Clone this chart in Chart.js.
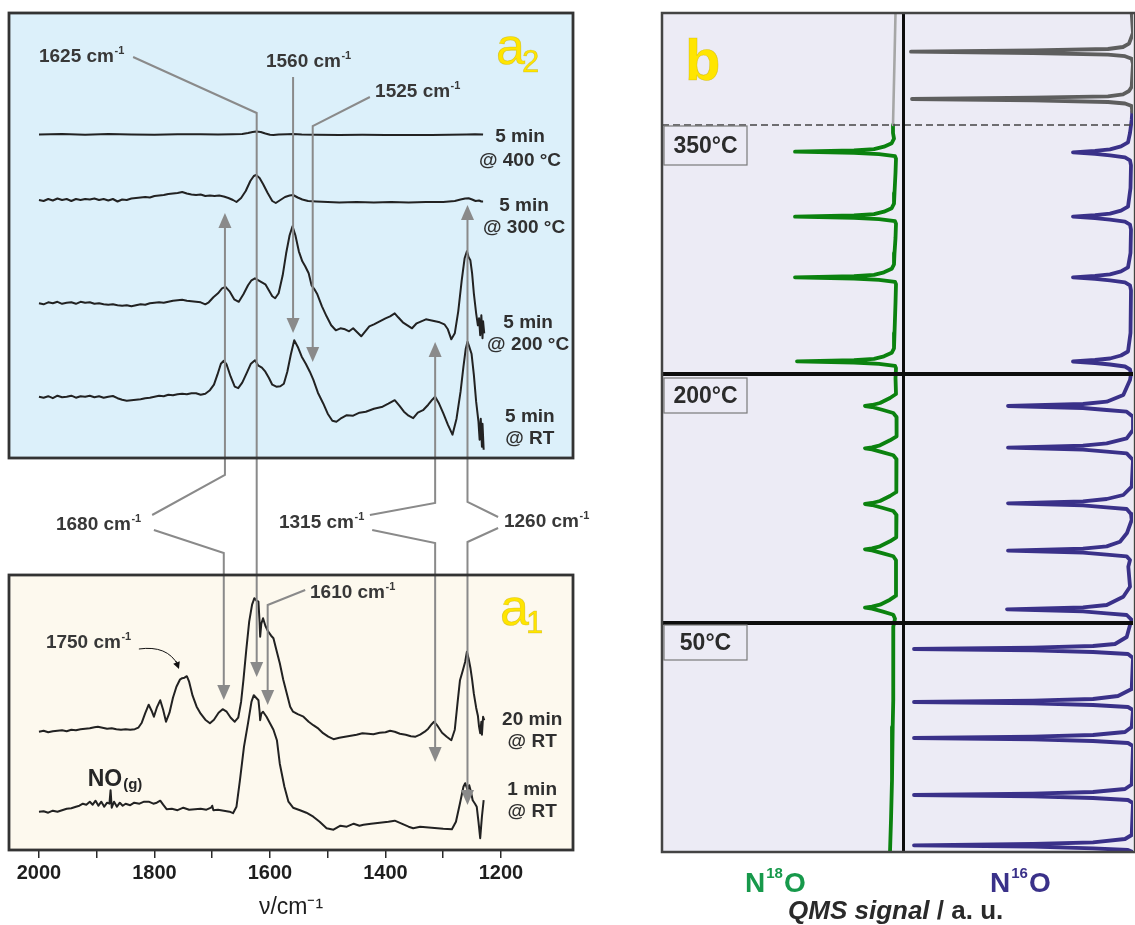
<!DOCTYPE html>
<html>
<head>
<meta charset="utf-8">
<script src="https://cdn.jsdelivr.net/npm/chart.js@4.4.1/dist/chart.umd.min.js"></script>
<style>
  body { margin: 0; background: #fff; }
  #wrap { position: relative; width: 1135px; height: 925px; }
  #ir { position: absolute; left: 0; top: 0; }
  #qms { position: absolute; left: 655px; top: 0; }
</style>
</head>
<body>
<div id="wrap">
  <canvas id="ir" width="600" height="925"></canvas>
  <canvas id="qms" width="480" height="925"></canvas>
</div>
<script>
const FAM = "'Liberation Sans', Arial, Helvetica, sans-serif";
Chart.defaults.font.family = FAM;

// ---------- panel a : IR spectra  [wavenumber, absorbance above own baseline] ----------
const tickVals = [2000, 1900, 1800, 1700, 1600, 1500, 1400, 1300, 1200];
const majorTicks = [2000, 1800, 1600, 1400, 1200];

const spec400 = [[2000,0],[1960,0.5],[1920,-0.3],[1880,0.4],[1840,0],[1800,-0.3],[1760,0.3],[1720,0.2],[1690,0],[1665,0.3],[1648,0.5],[1638,1.5],[1630,2.5],[1624,3],[1616,2.5],[1608,1],[1600,-0.3],[1594,-0.5],[1585,0],[1570,0.3],[1560,0.6],[1545,0],[1520,-0.3],[1480,-0.4],[1440,-0.3],[1400,-0.4],[1360,-0.5],[1320,-0.4],[1290,-0.3],[1260,0],[1245,0.3],[1231,0]];

const spec300 = [[2000,0],[1992,-1],[1984,1],[1976,-0.5],[1968,1.5],[1960,0],[1952,1],[1944,-1],[1936,1],[1928,0],[1920,1],[1912,0.5],[1904,1.5],[1896,0],[1888,1],[1880,-0.5],[1872,1],[1864,-1.5],[1856,0.5],[1848,0],[1840,1.5],[1832,2],[1824,2.5],[1816,3],[1808,2.5],[1800,4],[1792,4.5],[1784,5],[1776,6],[1768,6.5],[1760,7],[1752,8],[1744,6.5],[1736,5.5],[1728,5],[1720,5.5],[1712,4],[1704,4.5],[1696,4],[1688,4.5],[1680,3.5],[1672,2],[1664,0],[1658,-2],[1650,2],[1642,9],[1634,19],[1628,24],[1624,25],[1618,22],[1612,16],[1604,7],[1596,-1],[1590,-3],[1582,0],[1574,3],[1566,4.5],[1560,5],[1552,2.5],[1544,0.5],[1534,-1],[1520,-1.5],[1500,-2],[1480,-2.5],[1450,-2],[1420,-2.5],[1390,-2],[1360,-2.5],[1330,-2],[1300,-2],[1280,-1],[1270,0.5],[1262,1.5],[1256,1.8],[1250,0.5],[1244,-1],[1238,-0.5],[1234,-1.5],[1231,-1.5]];

const spec200 = [[2000,0],[1992,-1],[1984,1],[1976,0],[1968,1.5],[1960,-0.5],[1952,0.5],[1944,1],[1936,-0.5],[1928,1.5],[1920,0.5],[1912,1],[1904,-0.5],[1896,0],[1888,-1],[1880,-1.5],[1872,-1],[1864,-2],[1856,-2.5],[1848,-2],[1840,-3],[1832,-2],[1824,-1],[1816,-1.5],[1808,0],[1800,0.5],[1792,1],[1784,0.5],[1776,1.5],[1768,2.5],[1760,3],[1752,3.5],[1744,2.5],[1736,2],[1728,1.5],[1720,1],[1712,-1],[1706,1],[1698,6],[1690,10],[1683,15],[1677,16.5],[1670,12],[1662,4],[1654,1.5],[1646,9],[1638,18],[1632,23],[1626,25],[1620,23],[1614,21],[1608,19],[1602,13],[1596,7],[1591,5],[1585,10],[1578,28],[1572,50],[1566,68],[1561,77],[1556,68],[1550,52],[1544,42],[1539,37],[1533,30],[1528,18],[1523,14],[1518,9],[1510,-3],[1502,-13],[1494,-22],[1486,-27],[1478,-25],[1470,-26],[1463,-28],[1456,-25],[1449,-29],[1442,-33],[1435,-28],[1428,-23],[1420,-21],[1410,-18],[1400,-15],[1392,-13],[1384,-10],[1378,-14],[1370,-19],[1362,-22],[1354,-25],[1346,-20],[1338,-18],[1330,-16],[1322,-17],[1314,-18],[1306,-19],[1298,-21],[1292,-26],[1286,-36],[1280,-30],[1274,-8],[1268,23],[1263,45],[1259,52],[1256,46],[1253,43],[1250,30],[1247,10],[1243,-10],[1240,-22],[1238,-15],[1236,-32],[1234,-12],[1232,-35],[1231,-18],[1229,-30]];

const specRT5 = [[2000,0],[1992,-1],[1984,0.5],[1976,-1.5],[1968,1],[1960,-0.5],[1952,0],[1944,1],[1936,-1],[1928,0.5],[1920,0],[1912,1],[1904,-0.5],[1896,0.5],[1888,-1],[1880,0],[1872,0.7],[1864,-1.5],[1856,-3],[1848,-4],[1840,-3.5],[1832,-3],[1824,-2.5],[1816,-1.5],[1808,-1],[1800,0],[1792,1],[1784,0.5],[1776,2],[1768,1.5],[1760,2.5],[1752,3],[1744,2.5],[1736,3.5],[1728,3.5],[1720,2],[1712,3],[1704,6.5],[1697,12],[1691,22],[1685,33],[1680,36],[1675,32],[1668,20],[1661,10],[1655,8.5],[1648,14],[1640,24],[1633,33],[1626,36.5],[1620,31],[1614,29],[1608,25],[1602,19],[1596,12],[1589,10],[1582,10.5],[1576,13],[1570,25],[1564,42],[1558,56.5],[1552,50],[1545,40],[1538,33],[1531,25],[1525,17],[1517,4],[1508,-6.5],[1500,-17],[1492,-24],[1485,-25],[1478,-22],[1467,-18.5],[1456,-19],[1445,-16],[1434,-15],[1420,-12],[1405,-10],[1395,-7],[1384,-3.5],[1376,-9],[1368,-15],[1360,-19],[1352,-21.5],[1344,-16],[1335,-13.5],[1326,-8],[1319,-3],[1314,0],[1308,-6],[1300,-16.5],[1292,-28],[1284,-38],[1277,-22],[1270,5],[1265,30],[1261,48],[1258,55],[1255,50],[1251,43],[1247,22],[1243,-5],[1239,-25],[1237,-43],[1235,-22],[1233,-50],[1232,-27],[1230,-53]];

const spec20min = [[2000,0],[1992,1],[1984,-0.5],[1976,0.5],[1968,1],[1960,1.5],[1952,0.5],[1944,2],[1936,1.5],[1928,2.5],[1920,3],[1912,3.5],[1904,4.5],[1898,5],[1890,4],[1882,3],[1874,3.5],[1866,2.5],[1858,2],[1850,2.5],[1842,2],[1834,2.5],[1828,4],[1822,9],[1816,18.5],[1810,27],[1805,21],[1801,15],[1796,24],[1790,31.5],[1785,22],[1780,10],[1774,19],[1768,34],[1762,45],[1756,52],[1752,53.5],[1748,54],[1744,55.5],[1740,50],[1734,36],[1727,25],[1720,18],[1712,12],[1704,8.5],[1697,12],[1689,19],[1682,22.5],[1675,20],[1668,14],[1661,10],[1655,14],[1650,30],[1646,51.5],[1641,82],[1636,110],[1631,127],[1627,133.5],[1623,131],[1620,130],[1618,110],[1617,95],[1615,108],[1612,113.5],[1608,106],[1603,100],[1598,96],[1594,93.5],[1589,82],[1583,68.5],[1577,52],[1571,38.5],[1565,25],[1560,20],[1552,17.5],[1542,15],[1533,10],[1525,6.5],[1516,3],[1508,-1.5],[1499,-5],[1490,-7.5],[1480,-6],[1470,-5],[1460,-4],[1450,-3],[1440,-1.5],[1430,-2],[1421,-2.5],[1410,-1],[1400,-0.5],[1392,1],[1384,0],[1375,-2],[1365,-3],[1356,-4.5],[1348,-5],[1340,-3],[1332,0],[1326,3],[1320,7.5],[1316,10],[1310,6],[1302,-1],[1294,-5],[1286,-8.5],[1280,2],[1275,30],[1271,51.5],[1266,61.5],[1262,70],[1259,80],[1256,73],[1253,64],[1250,52],[1247,38],[1243,24],[1240,16],[1238,5],[1236,-1.5],[1234,10],[1233,-3],[1231,15],[1229,11.5]];

const spec1min = [[2000,0],[1992,0.5],[1984,-1],[1976,1],[1968,0],[1960,1.5],[1952,3],[1944,3.5],[1936,5],[1930,6],[1924,8],[1918,7],[1912,10],[1907,7],[1902,11],[1897,6],[1892,10],[1887,5],[1882,9],[1878,8],[1876,21.5],[1874,4],[1870,10],[1865,5],[1860,9],[1855,6],[1850,8],[1842,6.5],[1835,9],[1826,8],[1818,10],[1810,10],[1802,8],[1796,9],[1790,11],[1785,7],[1779,2.5],[1770,3],[1760,1.5],[1750,4],[1740,2],[1730,2.5],[1720,3],[1710,2],[1702,4],[1700,6],[1698,1.5],[1690,2],[1680,1],[1670,0],[1664,-1.5],[1658,5],[1652,31.5],[1645,65],[1638,88.5],[1632,110],[1628,116.5],[1624,114],[1620,111.5],[1618,100],[1617,91.5],[1615,98],[1612,100],[1606,95],[1600,88.5],[1594,82],[1588,71.5],[1583,48],[1575,25],[1568,10],[1560,4],[1548,1.5],[1537,-1],[1525,-5],[1514,-10],[1502,-16.5],[1490,-18],[1478,-14],[1467,-15],[1455,-12],[1445,-14],[1438,-13],[1425,-12],[1410,-11],[1395,-10],[1384,-9],[1372,-12],[1360,-15],[1352,-16.5],[1340,-15],[1320,-16],[1300,-17],[1285,-17.5],[1278,-10],[1271,8.5],[1265,25],[1262,28.5],[1258,22],[1255,26.5],[1252,20],[1249,11.5],[1245,8],[1242,5],[1239,-10],[1236,-26.5],[1233,-5],[1230,11.5]];

const irSpectra = [spec400, spec300, spec200, specRT5, spec20min, spec1min];
const irOffsets = [715.5, 650, 546.7, 453.3, 118.3, 38.3];
const irNames = [['5 min', '@ 400 °C'], ['5 min', '@ 300 °C'], ['5 min', '@ 200 °C'], ['5 min', '@ RT'], ['20 min', '@ RT'], ['1 min', '@ RT']];

// ---------- panel b : QMS pulses  [time, signal] ----------
const n16Pre = [[0,1.3],[20,0],[30.7,4],[34,10],[36,25],[37.4,100],[38.7,222],[40,100],[41.7,25],[43.2,8],[45.7,1.3],[50.7,0],[73.7,1.3],[78,4],[81.3,10],[83.3,25],[84.7,100],[86,221],[87.3,100],[89,25],[90.5,8],[93,1.3],[98.7,0.7]];
const n16 = [[98.7,0.7],[107,1.3],[120,3],
  [129.3,5],[133.3,12],[136.3,23],[137.8,38],[139.3,60],[140.8,38],[142.3,23],[144.3,8],[147.3,3],[152.3,2],
  [175,2.5],[193.7,5],[197.7,12],[200.7,23],[202.2,38],[203.7,60],[205.2,38],[206.7,23],[208.7,8],[211.7,3],[216.7,2],
  [240,2.5],[254.3,5],[258.3,12],[261.3,23],[262.8,38],[264.3,60],[265.8,38],[267.3,23],[269.3,8],[272.3,3],[277.3,2],
  [320,2.5],[338.5,5],[342.5,12],[345.5,23],[347,38],[348.5,60],[350,38],[351.5,23],[353.5,8],[356.5,3],[361,2],
  [367,3],[382,9.7],[388.7,26.3],[391,50],[393,125],[395,50],[397,26.3],[398.7,6.3],[403.7,0],
  [417,0],[425.3,6.3],[430.3,26.3],[432.7,50],[434.7,125],[436.7,50],[438.7,26.3],[440.4,6.3],[447,0],
  [473.7,1.3],[482,9.7],[486,26.3],[488.3,50],[490.3,125],[492.3,50],[494.3,26.3],[496,6.3],[501,2],
  [507,1.3],[520,6],[528.7,13],[533.4,26.3],[535.7,50],[537.7,125],[539.7,50],[541.7,26.3],[543.4,6.3],[547,3],
  [553.7,4.7],[573.7,3],[583.7,9.7],[592,26.3],[594.3,50],[596.3,126],[598.3,50],[600.3,26.3],[602,6.3],[607,1.3],
  [612,3],[624,6.3],[631,18],[633,40],[634.7,100],[636,219],[637.3,100],[639,40],[641,5],[645,0],
  [676,1.3],[683,15],[686,40],[687.7,100],[689,219],[690.3,100],[692,40],[694,5],[697,0],
  [714,1.3],[719,8],[722,40],[723.7,100],[725,219],[726.3,100],[728,40],[730,5],[733,0],
  [771.5,1.3],[776,8],[779,40],[780.7,100],[782,219],[783.3,100],[785,40],[787,5],[790,0],
  [822,1.3],[826,8],[829.3,40],[831,100],[832.3,219],[833.6,100],[835.3,40],[837,5],[839,0]];

const n18Pre = [[0,-1.5],[47,-0.5],[112,1]];
const n18 = [[112,1],[120,1],
  [125.7,0],[130.2,2.3],[133.7,10],[136.2,20],[137.5,40],[138.7,99],[139.9,40],[141.2,15],[143.2,-1],[145.7,-2],
  [160,-1.5],[180,-0.5],
  [190.7,0],[195.2,2.3],[198.7,10],[201.2,20],[202.5,40],[203.7,99],[204.9,40],[206.2,15],[208.2,-1],[210.7,-2],
  [225,-1.5],[240,-0.5],
  [251.3,0],[255.8,2.3],[259.3,10],[261.8,20],[263.1,40],[264.3,99],[265.5,40],[266.8,15],[268.8,-1],[271.3,-2],
  [290,-1.5],[320,-0.5],
  [335.3,0],[339.8,2.3],[343.3,10],[345.8,20],[347.1,40],[348.3,97],[349.5,40],[350.8,15],[352.8,-1],[355.3,-2],
  [365,-1.5],
  [381,-2],[385,4],[390,14],[392,22],[393,29],[394,22],[397,11],[400,0.7],[404,-2.5],
  [415,-2.7],
  [423.3,-2.5],[427.3,4],[432.3,14],[434.3,22],[435.3,29],[436.3,22],[439.3,11],[442.3,0.7],[446.3,-2.5],
  [460,-2.5],[470,-2.5],
  [479,-2],[483,4],[488,14],[490,22],[491,29],[492,22],[495,11],[498,0.7],[502,-2.5],
  [512,-2.5],
  [524.3,-2],[528.3,4],[533.3,14],[535.3,22],[536.3,29],[537.3,22],[540.3,11],[543.3,0.7],[547.3,-2],
  [560,-2],[575,-2],
  [582.7,-2],[586.7,4],[591.7,14],[593.7,22],[594.7,29],[595.7,22],[598.7,11],[601.7,0.7],[605.7,-1],
  [613.7,0.7],[647,0.5],[687,1],[714,1.3],[767,2],[807,3],[839,4]];
const n18Offset = 239;

// ---------- annotation geometry (a: [wavenumber, level]) ----------
const arrowsA = [
  [[1837,793],[1623,737],[1623,173]],
  [[1560,773],[1560,517]],
  [[1427,753],[1526,724],[1526,488]],
  [[1804,335],[1678,375],[1678,637]],
  [[1801,320],[1680,297],[1680,150]],
  [[1427,335],[1314,347],[1314,508]],
  [[1423,320],[1314,307],[1314,88]],
  [[1205,333],[1258,348],[1258,645]],
  [[1205,322],[1258,308],[1258,45]],
  [[1539,260],[1604,245],[1604,145]]
];
const cmLabels = [['1625',2000,793],['1560',1607,788],['1525',1418,758],['1680',1970.6,325],['1315',1584.4,327],['1260',1194.8,328],['1610',1530.7,257],['1750',1988,207]];
const nameAnchors = [[1167,713,689],[1160,644,622],[1153,527,505],[1150,433,411],[1146,130,108],[1146,60,38]];

function drawArrow(ctx, pts, len, half) {
  const n = pts.length;
  const [tx, ty] = pts[n - 1], [px, py] = pts[n - 2];
  const a = Math.atan2(ty - py, tx - px);
  const bx = tx - len * Math.cos(a), by = ty - len * Math.sin(a);
  ctx.beginPath();
  ctx.moveTo(pts[0][0], pts[0][1]);
  for (let i = 1; i < n - 1; i++) ctx.lineTo(pts[i][0], pts[i][1]);
  ctx.lineTo(bx, by);
  ctx.stroke();
  ctx.beginPath();
  ctx.moveTo(tx, ty);
  ctx.lineTo(bx + half * Math.sin(a), by - half * Math.cos(a));
  ctx.lineTo(bx - half * Math.sin(a), by + half * Math.cos(a));
  ctx.closePath();
  ctx.fill();
}

function cmText(ctx, num, x, y) {
  ctx.textAlign = 'left';
  ctx.textBaseline = 'middle';
  ctx.font = 'bold 19px ' + FAM;
  const t = num + ' cm';
  ctx.fillText(t, x, y);
  const w = ctx.measureText(t).width;
  ctx.font = 'bold 11px ' + FAM;
  ctx.fillText('-1', x + w + 0.5, y - 6);
}

function yellowLabel(ctx, big, sub, x, y, bigSize, subSize, subDy, weight) {
  ctx.textAlign = 'left';
  ctx.textBaseline = 'alphabetic';
  ctx.fillStyle = '#ffe500';
  ctx.strokeStyle = 'rgba(190,165,0,0.5)';
  ctx.lineWidth = 0.6;
  ctx.font = weight + ' ' + bigSize + 'px ' + FAM;
  ctx.fillText(big, x, y);
  ctx.strokeText(big, x, y);
  if (sub) {
    const w = ctx.measureText(big).width;
    ctx.font = weight + ' ' + subSize + 'px ' + FAM;
    ctx.fillText(sub, x + w - 3, y + subDy);
    ctx.strokeText(sub, x + w - 3, y + subDy);
  }
}

const irDecor = {
  id: 'irDecor',
  beforeDatasetsDraw(chart) {
    const {ctx, chartArea: ca, scales: {y}} = chart;
    ctx.save();
    ctx.fillStyle = '#dcf0fa';
    ctx.fillRect(ca.left, y.getPixelForValue(837), ca.width, y.getPixelForValue(392) - y.getPixelForValue(837));
    ctx.fillStyle = '#fdf9ee';
    ctx.fillRect(ca.left, y.getPixelForValue(275), ca.width, y.getPixelForValue(0) - y.getPixelForValue(275));
    ctx.restore();
  },
  afterDatasetsDraw(chart) {
    const {ctx, chartArea: ca, scales: {x, y}} = chart;
    const P = p => [x.getPixelForValue(p[0]), y.getPixelForValue(p[1])];
    ctx.save();
    // gray peak arrows
    ctx.strokeStyle = '#8a8a8a';
    ctx.fillStyle = '#8a8a8a';
    ctx.lineWidth = 2;
    ctx.lineJoin = 'miter';
    arrowsA.forEach(a => drawArrow(ctx, a.map(P), 15, 6.5));
    // 1750 curved pointer
    const s = P([1827, 201]), c = P([1778, 205]), e = P([1757.6, 181]);
    ctx.strokeStyle = '#111';
    ctx.fillStyle = '#111';
    ctx.lineWidth = 1;
    ctx.beginPath();
    ctx.moveTo(s[0], s[1]);
    ctx.quadraticCurveTo(c[0], c[1], e[0] - 1, e[1] - 4);
    ctx.stroke();
    drawArrow(ctx, [[e[0] - 3, e[1] - 8], [e[0], e[1]]], 7, 3.5);
    // panel borders
    ctx.strokeStyle = '#333';
    ctx.lineWidth = 2.8;
    ctx.strokeRect(ca.left, y.getPixelForValue(837), ca.width, y.getPixelForValue(392) - y.getPixelForValue(837));
    ctx.strokeRect(ca.left, y.getPixelForValue(275), ca.width, y.getPixelForValue(0) - y.getPixelForValue(275));
    // wavenumber labels
    ctx.fillStyle = '#383838';
    cmLabels.forEach(l => { const p = P([l[1], l[2]]); cmText(ctx, l[0], p[0], p[1]); });
    // spectrum names
    ctx.fillStyle = '#303030';
    ctx.font = 'bold 19px ' + FAM;
    ctx.textAlign = 'center';
    ctx.textBaseline = 'middle';
    nameAnchors.forEach((n, i) => {
      const px = x.getPixelForValue(n[0]);
      ctx.fillText(irNames[i][0], px, y.getPixelForValue(n[1]));
      ctx.fillText(irNames[i][1], px, y.getPixelForValue(n[2]));
    });
    // NO(g)
    const no = P([1915.6, 64]);
    ctx.textAlign = 'left';
    ctx.textBaseline = 'alphabetic';
    ctx.fillStyle = '#262626';
    ctx.font = 'bold 23px ' + FAM;
    ctx.fillText('NO', no[0], no[1]);
    const wno = ctx.measureText('NO').width;
    ctx.font = 'bold 15px ' + FAM;
    ctx.fillText('(g)', no[0] + wno + 1, no[1] + 3);
    // panel tags
    const a2 = P([1208.7, 786]), a1 = P([1201.7, 225]);
    yellowLabel(ctx, 'a', '2', a2[0], a2[1], 52, 31, 8, 'normal');
    yellowLabel(ctx, 'a', '1', a1[0], a1[1], 52, 31, 8, 'normal');
    ctx.restore();
  }
};

new Chart(document.getElementById('ir'), {
  type: 'scatter',
  data: {
    datasets: irSpectra.map((sp, i) => ({
      label: irNames[i].join(' '),
      data: sp.map(p => ({x: p[0], y: irOffsets[i] + p[1]})),
      showLine: true,
      borderColor: '#222',
      borderWidth: 2,
      pointRadius: 0,
      tension: 0,
      borderJoinStyle: 'round'
    }))
  },
  options: {
    responsive: false,
    animation: false,
    events: [],
    layout: {padding: {left: 9, right: 27, top: 13, bottom: 0}},
    plugins: {legend: {display: false}, tooltip: {enabled: false}},
    scales: {
      x: {
        type: 'linear', reverse: true, min: 1075.3, max: 2051.9,
        afterBuildTicks: sc => { sc.ticks = tickVals.map(v => ({value: v})); },
        afterFit: sc => { sc.height = 75; },
        ticks: {
          autoSkip: false, maxRotation: 0, padding: 3, color: '#1e1e1e',
          font: {size: 20, weight: 'bold'},
          callback: v => majorTicks.includes(v) ? String(v) : ''
        },
        grid: {drawOnChartArea: false, drawTicks: true, tickLength: 8, color: '#2a2a2a', lineWidth: 1.5},
        border: {display: false},
        title: {display: true, text: 'ν/cm⁻¹', color: '#1e1e1e', font: {size: 23}, padding: {top: 2, bottom: 4}}
      },
      y: {type: 'linear', min: 0, max: 837, display: false}
    }
  },
  plugins: [irDecor]
});

// ---------- panel b ----------
const tempBoxes = [['350°C', 113, 152], ['200°C', 365, 400], ['50°C', 612, 647]];

const qmsDecor = {
  id: 'qmsDecor',
  beforeDatasetsDraw(chart) {
    const {ctx, chartArea: ca} = chart;
    ctx.save();
    ctx.fillStyle = '#ecebf5';
    ctx.fillRect(ca.left, ca.top, ca.width, ca.height);
    ctx.restore();
  },
  afterDatasetsDraw(chart) {
    const {ctx, chartArea: ca, scales: {x, y}} = chart;
    ctx.save();
    // dashed switch line
    ctx.strokeStyle = '#444';
    ctx.lineWidth = 1.3;
    ctx.setLineDash([7, 4]);
    ctx.beginPath();
    ctx.moveTo(ca.left, y.getPixelForValue(112));
    ctx.lineTo(ca.right, y.getPixelForValue(112));
    ctx.stroke();
    ctx.setLineDash([]);
    // temperature step lines
    ctx.strokeStyle = '#0d0d0d';
    ctx.lineWidth = 4;
    [361, 610].forEach(t => {
      ctx.beginPath();
      ctx.moveTo(ca.left, y.getPixelForValue(t));
      ctx.lineTo(ca.right, y.getPixelForValue(t));
      ctx.stroke();
    });
    ctx.lineWidth = 3;
    ctx.beginPath();
    ctx.moveTo(x.getPixelForValue(229.5), ca.top);
    ctx.lineTo(x.getPixelForValue(229.5), ca.bottom);
    ctx.stroke();
    // temperature tags
    tempBoxes.forEach(b => {
      const l = x.getPixelForValue(469), r = x.getPixelForValue(386);
      const t = y.getPixelForValue(b[1]), btm = y.getPixelForValue(b[2]);
      ctx.fillStyle = '#ecebf5';
      ctx.fillRect(l, t, r - l, btm - t);
      ctx.strokeStyle = '#7a7a7a';
      ctx.lineWidth = 1.2;
      ctx.strokeRect(l, t, r - l, btm - t);
      ctx.fillStyle = '#2b2b2b';
      ctx.font = 'bold 23px ' + FAM;
      ctx.textAlign = 'center';
      ctx.textBaseline = 'middle';
      ctx.fillText(b[0], (l + r) / 2, (t + btm) / 2 + 1);
    });
    // frame
    ctx.strokeStyle = '#444';
    ctx.lineWidth = 2.5;
    ctx.strokeRect(ca.left, ca.top, ca.width + 2, ca.height);
    // tag b
    ctx.textAlign = 'left';
    ctx.textBaseline = 'alphabetic';
    ctx.fillStyle = '#ffe500';
    ctx.strokeStyle = 'rgba(190,165,0,0.5)';
    ctx.lineWidth = 0.6;
    ctx.font = 'bold 58px ' + FAM;
    ctx.fillText('b', x.getPixelForValue(448), y.getPixelForValue(67));
    ctx.strokeText('b', x.getPixelForValue(448), y.getPixelForValue(67));
    // species labels and axis title
    const iso = (mass, px, color) => {
      ctx.fillStyle = color;
      ctx.font = 'bold 28px ' + FAM;
      ctx.fillText('N', px, 892);
      const wn = ctx.measureText('N').width;
      ctx.font = 'bold 15px ' + FAM;
      ctx.fillText(mass, px + wn + 1, 878);
      const wm = ctx.measureText(mass).width;
      ctx.font = 'bold 28px ' + FAM;
      ctx.fillText('O', px + wn + wm + 2, 892);
    };
    iso('18', x.getPixelForValue(388), '#17994b');
    iso('16', x.getPixelForValue(143), '#3a3189');
    ctx.fillStyle = '#2a2a2a';
    ctx.font = 'italic bold 26px ' + FAM;
    const q = 'QMS signal';
    const qx = x.getPixelForValue(345);
    ctx.fillText(q, qx, 919);
    const wq = ctx.measureText(q).width;
    ctx.font = 'bold 26px ' + FAM;
    ctx.fillText(' / a. u.', qx + wq, 919);
    ctx.restore();
  }
};

const line = (pts, dx, color, width, label) => ({
  label,
  data: pts.map(p => ({x: dx + p[1], y: p[0]})),
  showLine: true,
  borderColor: color,
  borderWidth: width,
  pointRadius: 0,
  tension: 0,
  borderJoinStyle: 'round',
  borderCapStyle: 'round'
});

new Chart(document.getElementById('qms'), {
  type: 'scatter',
  data: {
    datasets: [
      line(n16Pre, 0, '#5e5e5e', 3.8, 'N16O before switch'),
      line(n16, 0, '#3a3189', 3.8, 'N16O'),
      line(n18Pre, n18Offset, '#a6a6a6', 2.6, 'N18O before switch'),
      line(n18, n18Offset, '#0b820f', 3.8, 'N18O')
    ]
  },
  options: {
    responsive: false,
    animation: false,
    events: [],
    layout: {padding: {left: 7, right: 2, top: 13, bottom: 73}},
    plugins: {legend: {display: false}, tooltip: {enabled: false}},
    scales: {
      x: {type: 'linear', reverse: true, min: 0, max: 471, display: false},
      y: {type: 'linear', reverse: true, min: 0, max: 839, display: false}
    }
  },
  plugins: [qmsDecor]
});
</script>
</body>
</html>
